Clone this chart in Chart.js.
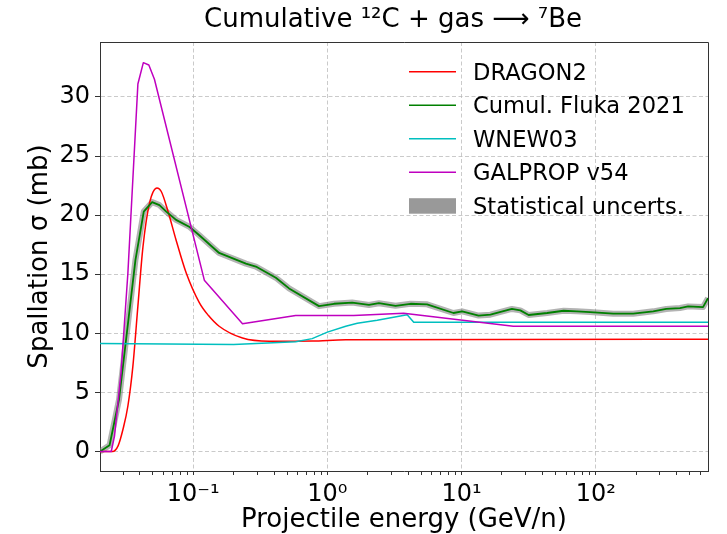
<!DOCTYPE html>
<html>
<head>
<meta charset="utf-8">
<script src="https://cdn.jsdelivr.net/npm/chart.js@4.4.0/dist/chart.umd.min.js"></script>
<style>
  html, body { margin: 0; padding: 0; background: #fff; }
</style>
</head>
<body>
<canvas id="xsChart" width="727" height="534"></canvas>
<script>
// energies (GeV/n) and cross sections (mb)
const dragonE  = [0.0202, 0.025, 0.0276, 0.030, 0.0326, 0.0355, 0.0387, 0.0422, 0.0472, 0.0537, 0.0578, 0.0646, 0.0745, 0.0887, 0.111, 0.13, 0.156, 0.233, 0.368, 0.77, 1.37, 686];
const dragonXS = [0, 0, 0.5, 1.9, 3.85, 7.2, 12.3, 17.3, 21.0, 22.3, 22.0, 20.4, 17.9, 15.1, 12.6, 11.5, 10.6, 9.6, 9.33, 9.35, 9.45, 9.5];

const flukaE  = [0.0202, 0.0238, 0.028, 0.0371, 0.0428, 0.0494, 0.056, 0.063, 0.0745, 0.094, 0.111, 0.156, 0.247, 0.293, 0.413, 0.518, 0.866, 1.12, 1.53, 2.04, 2.42, 3.22, 4.16, 5.53, 8.7, 10.1, 13.4, 16.4, 23.7, 27.4, 31.6, 43.4, 57.6, 72.3, 90.7, 135, 190, 268, 335, 424, 488, 630, 686];
const flukaXS = [0, 0.53, 4.4, 16.2, 20.3, 21.1, 20.85, 20.3, 19.6, 19.0, 18.3, 16.8, 15.9, 15.65, 14.7, 13.8, 12.3, 12.5, 12.6, 12.4, 12.55, 12.33, 12.5, 12.45, 11.72, 11.86, 11.5, 11.58, 12.06, 11.94, 11.55, 11.72, 11.91, 11.86, 11.8, 11.66, 11.66, 11.86, 12.06, 12.14, 12.28, 12.22, 12.98];

const wnewE  = [0.0202, 0.2, 0.58, 0.77, 1.0, 1.37, 1.67, 2.35, 3.93, 4.4, 686];
const wnewXS = [9.13, 9.05, 9.28, 9.55, 10.1, 10.6, 10.85, 11.1, 11.58, 10.93, 10.93];

const galpropE  = [0.0202, 0.0245, 0.0259, 0.029, 0.0326, 0.0387, 0.0425, 0.0467, 0.0514, 0.121, 0.233, 0.58, 1.57, 3.7, 24.3, 686];
const galpropXS = [0, 0, 1.3, 6.7, 15.1, 31.1, 32.9, 32.7, 31.5, 14.5, 10.8, 11.5, 11.5, 11.7, 10.6, 10.6];

const yTickValues = [0, 5, 10, 15, 20, 25, 30];
const xDecadeValues = [0.1, 1, 10, 100];
const xDecadeLabels = ['10⁻¹', '10⁰', '10¹', '10²'];
const legendLabels = ['DRAGON2', 'Cumul. Fluka 2021', 'WNEW03', 'GALPROP v54', 'Statistical uncerts.'];
const lineColors = ['#ff0000', '#008000', '#00bfbf', '#bf00bf'];

const FONT = "'DejaVu Sans', sans-serif";
const gridCol = 'rgba(180,180,180,0.7)';

function pts(E, S) {
    return E.map((e, i) => ({ x: e, y: S[i] }));
}

function decadeIndex(v) {
    return xDecadeValues.findIndex(d => Math.abs(Math.log10(v) - Math.log10(d)) < 1e-6);
}

// title, top/right spines and in-axes legend
const decorPlugin = {
    id: 'decor',
    afterDatasetsDraw(chart) {
        const ctx = chart.ctx;
        const a = chart.chartArea;
        ctx.save();
        // spines
        ctx.strokeStyle = '#333';
        ctx.lineWidth = 1;
        ctx.beginPath();
        ctx.moveTo(a.left, a.top + 0.5);
        ctx.lineTo(a.right + 0.5, a.top + 0.5);
        ctx.lineTo(a.right + 0.5, a.bottom);
        ctx.stroke();

        // legend
        ctx.font = '22.6px ' + FONT;
        ctx.fillStyle = '#000';
        ctx.textBaseline = 'alphabetic';
        ctx.textAlign = 'left';
        legendLabels.forEach((lab, i) => {
            const y = 71.7 + i * 33.5;
            if (i < 4) {
                ctx.strokeStyle = lineColors[i];
                ctx.lineWidth = 1.5;
                ctx.beginPath();
                ctx.moveTo(409, y);
                ctx.lineTo(456, y);
                ctx.stroke();
            } else {
                ctx.fillStyle = '#999999';
                ctx.fillRect(409, y - 7.5, 47, 15.5);
                ctx.fillStyle = '#000';
            }
            ctx.fillText(lab, 473, y + 7.8);
        });

        // title
        ctx.font = '26px ' + FONT;
        ctx.textAlign = 'center';
        ctx.fillText('Cumulative ¹²C + gas ⟶ ⁷Be', 393, 27);
        ctx.restore();
    }
};

const ctx = document.getElementById('xsChart').getContext('2d');

new Chart(ctx, {
    type: 'line',
    data: {
        datasets: [
            { label: 'Statistical uncerts.', data: pts(flukaE, flukaXS), borderColor: 'rgba(128,128,128,0.6)', borderWidth: 6, order: 10 },
            { label: 'DRAGON2', data: pts(dragonE, dragonXS), borderColor: lineColors[0], borderWidth: 1.5, cubicInterpolationMode: 'monotone', order: 4 },
            { label: 'Cumul. Fluka 2021', data: pts(flukaE, flukaXS), borderColor: lineColors[1], borderWidth: 1.8, order: 3 },
            { label: 'WNEW03', data: pts(wnewE, wnewXS), borderColor: lineColors[2], borderWidth: 1.5, order: 2 },
            { label: 'GALPROP v54', data: pts(galpropE, galpropXS), borderColor: lineColors[3], borderWidth: 1.5, order: 1 }
        ]
    },
    options: {
        responsive: false,
        animation: false,
        layout: { padding: { top: 42, right: 19, left: 0, bottom: 0 } },
        elements: {
            point: { radius: 0 },
            line: { tension: 0, fill: false, borderJoinStyle: 'round' }
        },
        plugins: {
            legend: { display: false },
            tooltip: { enabled: false }
        },
        scales: {
            x: {
                type: 'logarithmic',
                min: 0.0202,
                max: 686,
                afterBuildTicks(scale) {
                    const t = [];
                    for (let p = -2; p <= 2; p++) {
                        for (let m = 1; m <= 9; m++) {
                            const v = m * Math.pow(10, p);
                            if (v >= scale.min && v <= scale.max) t.push({ value: v, dec: m === 1 });
                        }
                    }
                    scale.ticks = t;
                },
                afterFit(scale) { scale.height = 63; },
                grid: {
                    color: c => (c.tick && c.tick.dec) ? gridCol : 'rgba(0,0,0,0)',
                    lineWidth: 1,
                    tickColor: '#333',
                    tickLength: 4
                },
                border: { display: true, color: '#333', width: 1, dash: [4, 2.5] },
                ticks: {
                    autoSkip: false,
                    maxRotation: 0,
                    padding: 5,
                    color: '#000',
                    font: { family: FONT, size: 24 },
                    callback: (value) => {
                        const k = decadeIndex(value);
                        return k >= 0 ? xDecadeLabels[k] : '';
                    }
                },
                title: {
                    display: true,
                    text: 'Projectile energy (GeV/n)',
                    color: '#000',
                    font: { family: FONT, size: 26 },
                    padding: { top: 0, bottom: -2 }
                }
            },
            y: {
                type: 'linear',
                min: -1.65,
                max: 34.65,
                afterBuildTicks(scale) {
                    scale.ticks = yTickValues.map(v => ({ value: v }));
                },
                afterFit(scale) { scale.width = 100; },
                grid: {
                    color: gridCol,
                    lineWidth: 1,
                    tickColor: '#333',
                    tickLength: 5
                },
                border: { display: true, color: '#333', width: 1, dash: [4, 2.5] },
                ticks: {
                    padding: 5,
                    color: '#000',
                    font: { family: FONT, size: 24 }
                },
                title: {
                    display: true,
                    text: 'Spallation σ (mb)',
                    color: '#000',
                    font: { family: FONT, size: 26 },
                    padding: { top: 25, bottom: 0 }
                }
            }
        }
    },
    plugins: [decorPlugin]
});
</script>
</body>
</html>
